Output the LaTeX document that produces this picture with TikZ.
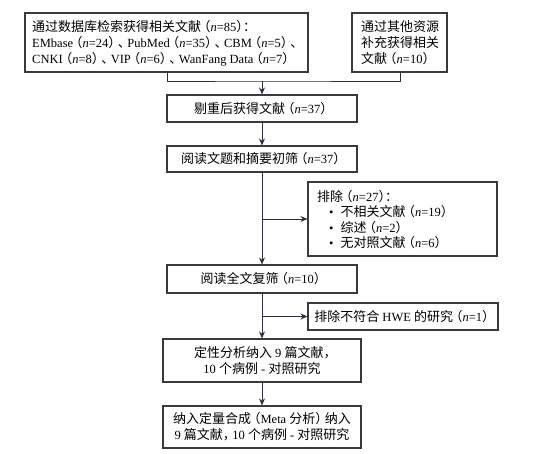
\documentclass[tikz,border=0pt]{standalone}
\usepackage{fontspec}
\setmainfont{Liberation Serif}
\newfontfamily\cjk{Noto Sans CJK SC}[Scale=1.04]
\newfontfamily\cjkh{Noto Sans CJK SC}[Scale=1.04,RawFeature=+halt]
\newcommand{\C}[1]{{\cjk #1}}
\newcommand{\lp}{\hspace{3pt}{\cjkh （}}
\newcommand{\rp}{{\cjkh ）}\hspace{3pt}}
\newcommand{\rpx}{{\cjkh ）}}
\newcommand{\dn}{{\cjkh 、}\hspace{3pt}}
\newcommand{\cl}{{\cjkh ：}}
\newcommand{\cm}{{\cjkh ，}\hspace{3pt}}
\newcommand{\nn}{\textit{n}}
\usetikzlibrary{arrows.meta}
\definecolor{boxcol}{HTML}{3A3A3A}
\definecolor{linecol}{HTML}{2E2E3E}
\tikzset{
  box/.style={draw=boxcol, line width=1.1pt, inner sep=0pt, align=center,
    font=\fontsize{12.5}{16}\selectfont, text=black},
  txt/.style={anchor=west, inner sep=0pt, align=left, font=\fontsize{12.5}{16}\selectfont},
  conn/.style={draw=linecol, line width=0.9pt},
  arr/.style={conn, -{Stealth[length=7pt,width=6pt]}}
}
\begin{document}
\begin{tikzpicture}[x=1pt,y=-1pt]
\useasboundingbox (0,0) rectangle (549,453);
\node[box, minimum width=283pt, minimum height=59pt] (db) at (166.5,42.5) {};
\node[txt] (dbt) at (32,43)
 {\C{通过数据库检索获得相关文献}\lp\nn=85\rpx\cl\\
  EMbase\lp\nn=24\rp\dn PubMed\lp\nn=35\rp\dn CBM\lp\nn=5\rp\dn\\
  CNKI\lp\nn=8\rp\dn VIP\lp\nn=6\rp\dn WanFang Data\lp\nn=7\rp};
\node[box, minimum width=95pt, minimum height=59pt] (other) at (399.5,42.5) {};
\node[txt] (othert) at (361,43)
 {\C{通过其他资源}\\ \C{补充获得相关}\\ \C{文献}\lp\nn=10\rp};
\node[box, minimum width=190pt, minimum height=27pt] (dedup) at (262,108.5)
 {\C{剔重后获得文献}\lp\nn=37\rp};
\node[box, minimum width=190pt, minimum height=26pt] (title) at (262,159)
 {\C{阅读文题和摘要初筛}\lp\nn=37\rp};
\node[box, minimum width=189pt, minimum height=74pt] (ex1) at (402.5,219) {};
\node[txt, font=\fontsize{12.5}{15.5}\selectfont] (ex1t) at (317,219.5)
 {\C{排除}\lp\nn=27\rpx\cl\\
  \hspace*{12pt}•\hspace{7pt}\C{不相关文献}\lp\nn=19\rp\\
  \hspace*{12pt}•\hspace{7pt}\C{综述}\lp\nn=2\rp\\
  \hspace*{12pt}•\hspace{7pt}\C{无对照文献}\lp\nn=6\rp};
\node[box, minimum width=190pt, minimum height=28pt] (full) at (262,279)
 {\C{阅读全文复筛}\lp\nn=10\rp};
\node[box, minimum width=190pt, minimum height=27pt] (ex2) at (403,316.5)
 {\C{排除不符合} HWE \C{的研究}\lp\nn=1\rp};
\node[box, minimum width=198pt, minimum height=43pt] (qual) at (262,360.5)
 {\C{定性分析纳入} 9 \C{篇文献}\cm\\ 10 \C{个病例} - \C{对照研究}};
\node[box, minimum width=198pt, minimum height=42pt] (meta) at (262,427)
 {\C{纳入定量合成}\lp Meta \C{分析}\rp\C{纳入}\\ 9 \C{篇文献}\cm 10 \C{个病例} - \C{对照研究}};
\coordinate (j) at (262,81);
\coordinate (j1) at (262,219);
\coordinate (j2) at (262,316.5);
\draw[conn] (db.south -| 167,0) |- (j) -| (other.south -| 400,0);
\draw[arr] (j) -- (dedup);
\draw[arr] (dedup) -- (title);
\draw[arr] (title) -- (full);
\draw[arr] (j1) -- (ex1);
\draw[arr] (full) -- (qual);
\draw[arr] (j2) -- (ex2);
\draw[arr] (qual) -- (meta);
\end{tikzpicture}
\end{document}
